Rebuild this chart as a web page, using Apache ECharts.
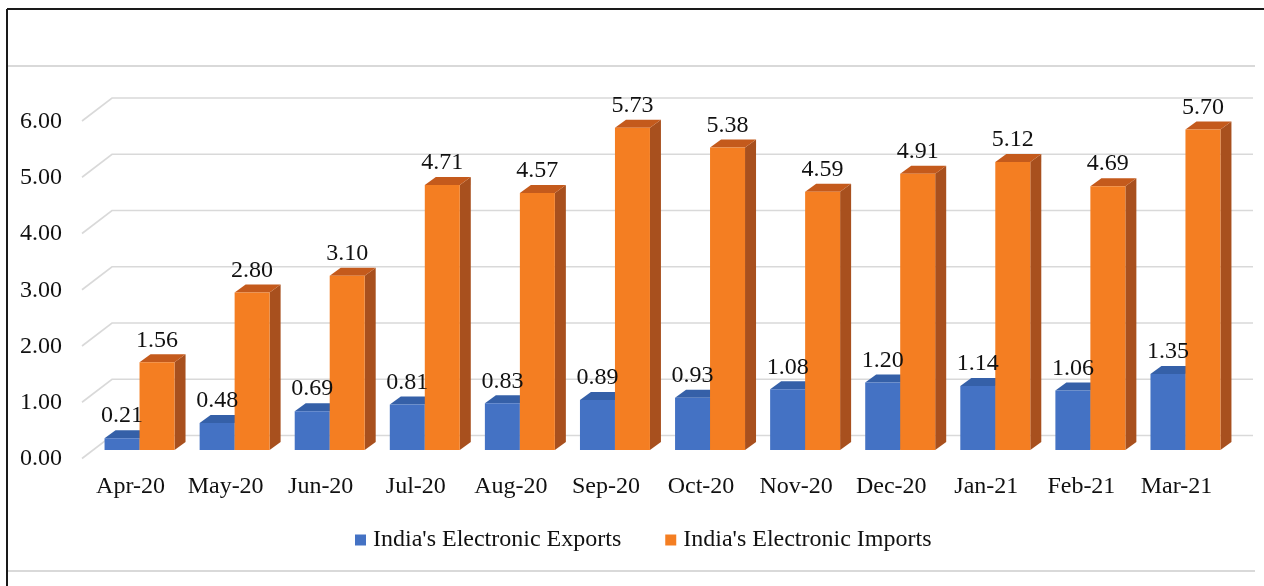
<!DOCTYPE html>
<html>
<head>
<meta charset="utf-8">
<script src="https://cdn.jsdelivr.net/npm/echarts@6/dist/echarts.min.js"></script>
<style>
  html, body { margin: 0; padding: 0; background: #ffffff; }
  #chart { width: 1264px; height: 586px; }
</style>
</head>
<body>
<div id="chart"></div>
<script>
// Monthly electronics trade, FY 2020-21
const months = ['Apr-20', 'May-20', 'Jun-20', 'Jul-20', 'Aug-20', 'Sep-20',
                'Oct-20', 'Nov-20', 'Dec-20', 'Jan-21', 'Feb-21', 'Mar-21'];
const exportsData = [0.21, 0.48, 0.69, 0.81, 0.83, 0.89, 0.93, 1.08, 1.20, 1.14, 1.06, 1.35];
const importsData = [1.56, 2.80, 3.10, 4.71, 4.57, 5.73, 5.38, 4.59, 4.91, 5.12, 4.69, 5.70];
const yTicks = [0, 1, 2, 3, 4, 5, 6];

const FONT = 'Liberation Serif, Times New Roman, serif';
const TEXT = '#111111';
const DEPTH_X = 11, DEPTH_Y = 8;          // bar depth in screen pixels
const WALL_X = 20, WALL_Y = 14.5;         // back wall offset from bar front plane
const SIDE_X = 10, SIDE_Y = 8.5;          // side wall front edge offset
const BAR_FRAC = 0.368;

const palette = {
  exports: { front: '#4472C4', top: '#3560A8', side: '#2F5597' },
  imports: { front: '#F47E22', top: '#C45A1C', side: '#A8501E' }
};

const chart = echarts.init(document.getElementById('chart'));

function barItem(colors, left) {
  return function (params, api) {
    const i = api.value(0), v = api.value(1);
    const top = api.coord([i, v]);
    const base = api.coord([i, 0]);
    const w = api.size([1, 0])[0] * BAR_FRAC;
    const x0 = left ? top[0] - w : top[0];
    const y1 = top[1], y0 = base[1];
    return {
      type: 'group',
      children: [
        { type: 'polygon', shape: { points: [[x0 + w, y1], [x0 + w + DEPTH_X, y1 - DEPTH_Y], [x0 + w + DEPTH_X, y0 - DEPTH_Y], [x0 + w, y0]] },
          style: { fill: colors.side } },
        { type: 'polygon', shape: { points: [[x0, y1], [x0 + w, y1], [x0 + w + DEPTH_X, y1 - DEPTH_Y], [x0 + DEPTH_X, y1 - DEPTH_Y]] },
          style: { fill: colors.top } },
        { type: 'rect', shape: { x: x0, y: y1, width: w, height: y0 - y1 },
          style: { fill: colors.front } }
      ]
    };
  };
}

function labelItem(left) {
  return function (params, api) {
    const i = api.value(0), v = api.value(1);
    const top = api.coord([i, v]);
    const w = api.size([1, 0])[0] * BAR_FRAC;
    const x0 = left ? top[0] - w : top[0];
    return {
      type: 'text',
      style: {
        text: v.toFixed(2), x: x0 + w / 2, y: top[1] - 22,
        align: 'center', verticalAlign: 'middle',
        font: '24px ' + FONT, fill: TEXT
      }
    };
  };
}

function gridItem(params, api) {
  const cs = params.coordSys;
  const y = api.coord([0, api.value(0)])[1];
  return {
    type: 'polyline',
    shape: { points: [[cs.x - SIDE_X, y + SIDE_Y], [cs.x + WALL_X, y - WALL_Y], [cs.x + cs.width + WALL_X, y - WALL_Y]] },
    style: { stroke: '#d9d9d9', lineWidth: 1.6, fill: null }
  };
}

const option = {
  animation: false,
  backgroundColor: '#ffffff',
  grid: { left: 92, right: 31, top: 112.5, bottom: 136 },
  xAxis: {
    type: 'category',
    data: months,
    axisLine: { show: false },
    axisTick: { show: false },
    axisLabel: { color: TEXT, fontFamily: FONT, fontSize: 24, margin: 25, padding: [0, 18, 0, 0], interval: 0 }
  },
  yAxis: {
    type: 'value', min: 0, max: 6, interval: 1,
    splitLine: { show: false },
    axisLine: { show: false },
    axisTick: { show: false },
    axisLabel: {
      color: TEXT, fontFamily: FONT, fontSize: 24, margin: 30,
      verticalAlign: 'top', lineHeight: 18,
      formatter: v => v.toFixed(2)
    }
  },
  legend: {
    data: ["India's Electronic Exports", "India's Electronic Imports"],
    left: 350, top: 523,
    icon: 'rect', itemWidth: 11, itemHeight: 11, itemGap: 44,
    textStyle: { color: TEXT, fontFamily: FONT, fontSize: 24, padding: [0, 0, 0, 2] }
  },
  graphic: [
    { type: 'line', shape: { x1: 7, y1: 9, x2: 1264, y2: 9 }, style: { stroke: '#1a1a1a', lineWidth: 2 } },
    { type: 'line', shape: { x1: 7, y1: 9, x2: 7, y2: 586 }, style: { stroke: '#1a1a1a', lineWidth: 2 } },
    { type: 'line', shape: { x1: 8, y1: 66, x2: 1255, y2: 66 }, style: { stroke: '#d9d9d9', lineWidth: 2 } },
    { type: 'line', shape: { x1: 8, y1: 571, x2: 1255, y2: 571 }, style: { stroke: '#d9d9d9', lineWidth: 2 } }
  ],
  series: [
    { type: 'custom', name: 'grid', z: 0, silent: true, renderItem: gridItem, data: yTicks.map(v => [v]) },
    { type: 'custom', name: "India's Electronic Exports", z: 2, itemStyle: { color: palette.exports.front },
      renderItem: barItem(palette.exports, true), data: exportsData.map((v, i) => [i, v]) },
    { type: 'custom', name: "India's Electronic Imports", z: 3, itemStyle: { color: palette.imports.front },
      renderItem: barItem(palette.imports, false), data: importsData.map((v, i) => [i, v]) },
    { type: 'custom', name: 'exportLabels', z: 10, silent: true, renderItem: labelItem(true), data: exportsData.map((v, i) => [i, v]) },
    { type: 'custom', name: 'importLabels', z: 10, silent: true, renderItem: labelItem(false), data: importsData.map((v, i) => [i, v]) }
  ]
};

chart.setOption(option);
</script>
</body>
</html>
